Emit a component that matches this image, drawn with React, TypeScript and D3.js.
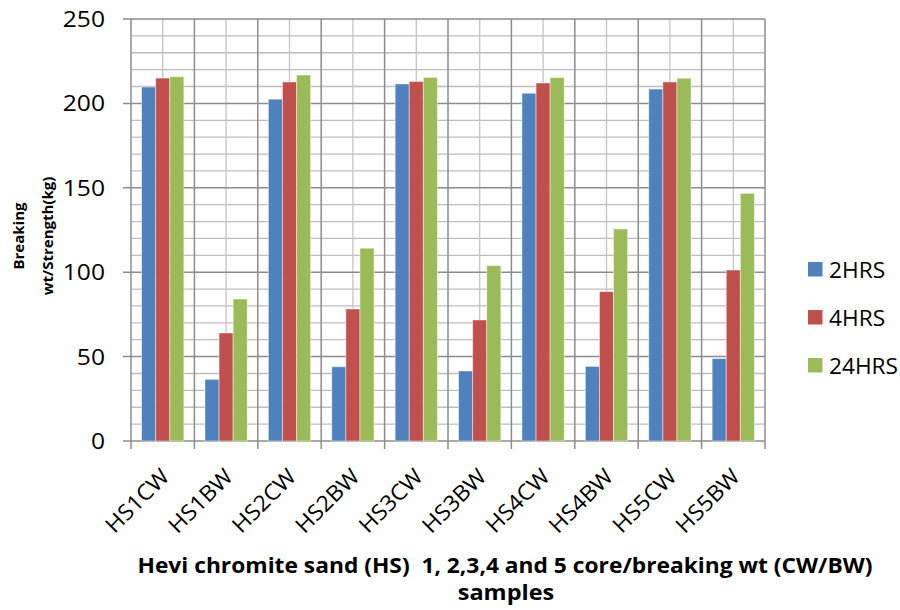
import React from "react";
import * as d3 from "d3";

const categories = ["HS1CW", "HS1BW", "HS2CW", "HS2BW", "HS3CW", "HS3BW", "HS4CW", "HS4BW", "HS5CW", "HS5BW"];
const seriesNames = ["2HRS", "4HRS", "24HRS"];
const hrs2 = [209.7, 36.5, 202.5, 44, 211.5, 41.5, 206, 44.2, 208.5, 48.8];
const hrs4 = [215, 64, 212.7, 78.2, 213, 71.7, 212.1, 88.5, 212.7, 101.3];
const hrs24 = [215.8, 84.1, 216.8, 114.2, 215.4, 103.9, 215.3, 125.6, 214.9, 146.7];
const colors = ["#4F81BD", "#C0504D", "#9BBB59"];
const yTicks = [0, 50, 100, 150, 200, 250];

const FONT = "'Open Sans', 'Liberation Sans', sans-serif";
const SX = 1.12;

export default function App() {
  const left = 131, right = 765, top = 19, bottom = 441;
  const series = [hrs2, hrs4, hrs24];
  const x = d3.scaleBand<string>().domain(categories).range([left, right]).paddingInner(0).paddingOuter(0);
  const bw = x.bandwidth();
  const inner = d3.scaleBand<string>().domain(seriesNames).range([bw * 1.5 / 4.5 / 2, bw - bw * 1.5 / 4.5 / 2]).padding(0);
  const y = d3.scaleLinear().domain([0, 250]).range([bottom, top]);
  const minor = d3.range(0, 251, 10);

  return (
    <svg width={900} height={610} style={{ position: "absolute", left: 0, top: 0, background: "#fff" }} fontFamily={FONT}>
      {minor.filter((v) => v % 50 !== 0).map((v) => (
        <line key={"mh" + v} x1={left} x2={right} y1={y(v)} y2={y(v)} stroke="#BEBEBE" strokeWidth={1.3} />
      ))}
      {categories.map((c) => (
        <line key={"mv" + c} x1={x(c)! + bw / 2} x2={x(c)! + bw / 2} y1={top} y2={bottom} stroke="#C4C4C4" strokeWidth={1.3} />
      ))}
      {yTicks.map((v) => (
        <line key={"h" + v} x1={left - 8} x2={right} y1={y(v)} y2={y(v)} stroke="#8C8C8C" strokeWidth={1.5} />
      ))}
      {categories.map((c) => (
        <line key={"v" + c} x1={x(c)!} x2={x(c)!} y1={top} y2={bottom + 8} stroke="#8C8C8C" strokeWidth={1.5} />
      ))}
      <line x1={right} x2={right} y1={top} y2={bottom + 8} stroke="#8C8C8C" strokeWidth={1.5} />

      {series.map((vals, si) =>
        vals.map((v, i) => (
          <rect
            key={si + "-" + i}
            x={x(categories[i])! + inner(seriesNames[si])!}
            y={y(v)}
            width={inner.bandwidth()}
            height={bottom - y(v)}
            fill={colors[si]}
            stroke="rgba(255,255,255,0.45)"
            strokeWidth={1}
          />
        ))
      )}

      {yTicks.map((v) => (
        <text key={"yt" + v} transform={`translate(105,${y(v)}) scale(${SX},1)`} dy="0.36em" textAnchor="end" fontSize={22} fill="#000">
          {v}
        </text>
      ))}

      {categories.map((c) => {
        const ax = x(c)! + bw / 2 + 8;
        const ay = 478;
        return (
          <text key={"xt" + c} transform={`translate(${ax},${ay}) rotate(-45) scale(1.06,1)`} textAnchor="end" fontSize={22} fill="#000">
            {c}
          </text>
        );
      })}

      <text transform="translate(24,236) rotate(-90)" textAnchor="middle" fontSize={15} fontWeight="bold" fill="#000">
        Breaking
      </text>
      <text transform="translate(53,236) rotate(-90)" textAnchor="middle" fontSize={15} fontWeight="bold" fill="#000">
        wt/Strength(kg)
      </text>

      <text x={505} y={573} textAnchor="middle" fontSize={21} fontWeight="bold" fill="#000" textLength={735} lengthAdjust="spacingAndGlyphs" style={{ whiteSpace: "pre" }}>
        {"Hevi chromite sand (HS)  1, 2,3,4 and 5 core/breaking wt (CW/BW)"}
      </text>
      <text transform={`translate(506,600) scale(${SX},1)`} textAnchor="middle" fontSize={21} fontWeight="bold" fill="#000">
        samples
      </text>

      {seriesNames.map((n, i) => (
        <g key={"lg" + n} transform={`translate(808, ${262 + i * 48})`}>
          <rect x={0} y={0} width={14.5} height={14.5} fill={colors[i]} />
          <text transform={`translate(21,15.5) scale(1.03,1)`} fontSize={22} fill="#000">
            {n}
          </text>
        </g>
      ))}
    </svg>
  );
}
